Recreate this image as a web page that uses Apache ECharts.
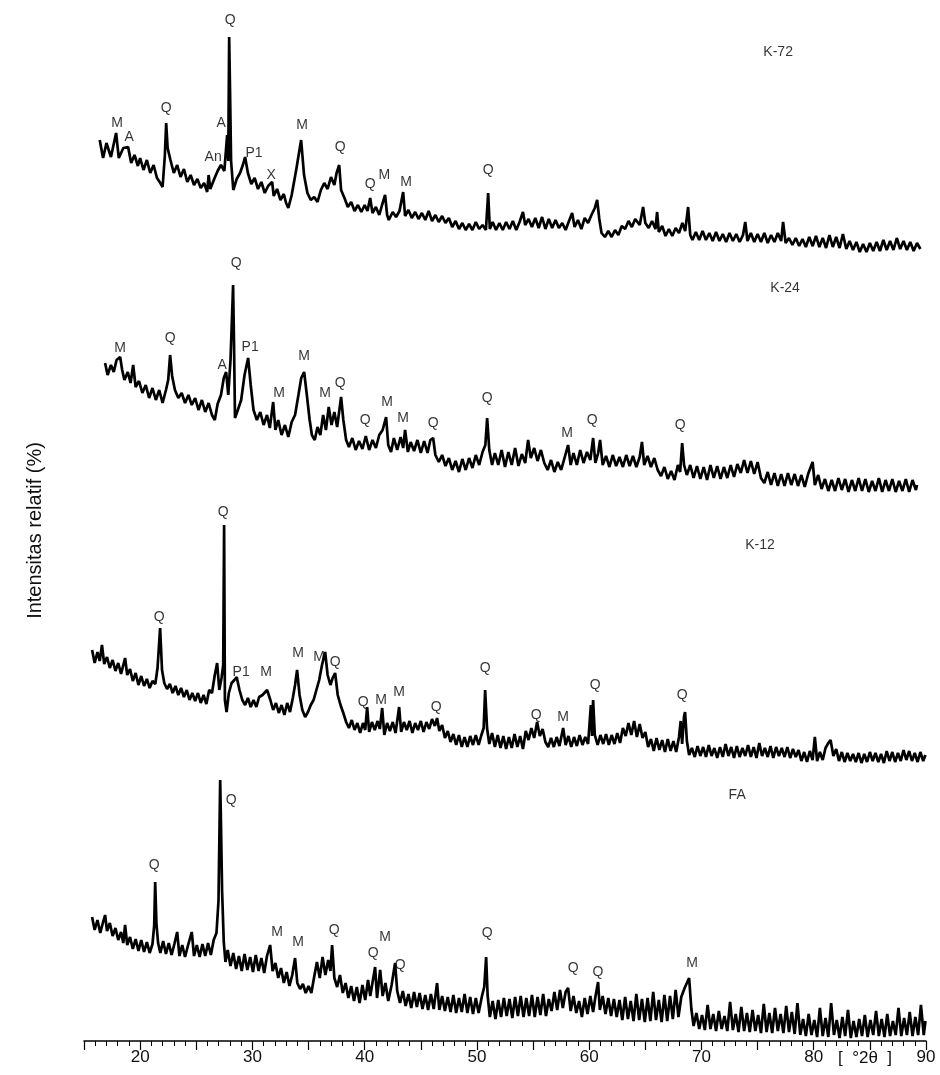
<!DOCTYPE html>
<html>

<head>
  <meta charset="utf-8">
  <title>XRD</title>
  <script src="https://cdn.jsdelivr.net/npm/echarts/dist/echarts.min.js"></script>
  <style>
    body { margin: 0; background: #fff; }
  </style>
</head>

<body>
  <div id="main" style="width: 940px;height:1075px;"></div>
  <script type="text/javascript">
    // 2theta (deg) vs relative intensity, traces already stacked (offsets included)
    var k72 = [
      [16.4, 901], [16.7, 883], [17.0, 898], [17.4, 884], [17.86, 908], [18.1, 883], [18.5, 893], [18.93, 894],
      [19.2, 878], [19.5, 886], [19.8, 875], [20.0, 883], [20.3, 871], [20.6, 881], [20.9, 868], [21.2, 876],
      [21.5, 863], [21.8, 858], [22.0, 854], [22.2, 885], [22.32, 918], [22.45, 893], [22.7, 881], [23.0, 868],
      [23.3, 876], [23.6, 864], [23.9, 872], [24.2, 859], [24.5, 866], [24.8, 856], [25.1, 862], [25.4, 853],
      [25.7, 858], [25.97, 849], [26.1, 866], [26.25, 852], [26.6, 862], [26.9, 870], [27.2, 876], [27.5, 870],
      [27.75, 906], [27.85, 880], [27.93, 1004], [28.0, 956], [28.1, 880], [28.3, 851], [28.6, 862], [28.9, 868],
      [29.15, 876], [29.35, 884], [29.6, 868], [29.9, 857], [30.2, 863], [30.5, 852], [30.8, 859], [31.1, 848],
      [31.4, 855], [31.76, 859], [31.9, 845], [32.2, 852], [32.5, 841], [32.8, 847], [33.0, 838], [33.2, 833],
      [33.5, 846], [33.9, 871], [34.34, 901], [34.6, 866], [34.9, 848], [35.2, 841], [35.5, 844], [35.8, 839],
      [36.1, 851], [36.4, 858], [36.7, 852], [37.0, 864], [37.3, 856], [37.5, 868], [37.73, 876], [37.9, 851],
      [38.2, 843], [38.5, 834], [38.8, 839], [39.1, 830], [39.4, 836], [39.7, 829], [40.0, 836], [40.25, 830],
      [40.49, 843], [40.7, 828], [41.0, 834], [41.3, 826], [41.55, 836], [41.82, 846], [42.0, 826], [42.15, 821],
      [42.5, 829], [42.8, 824], [43.1, 830], [43.43, 849], [43.6, 825], [43.9, 831], [44.2, 823], [44.5, 829],
      [44.8, 822], [45.1, 828], [45.4, 821], [45.7, 830], [46.0, 820], [46.3, 826], [46.6, 819], [46.9, 825],
      [47.2, 818], [47.5, 823], [47.8, 814], [48.1, 820], [48.4, 812], [48.7, 818], [49.0, 811], [49.3, 817],
      [49.6, 811], [49.9, 819], [50.2, 812], [50.5, 816], [50.8, 811], [51.0, 848], [51.15, 812], [51.4, 819],
      [51.7, 811], [52.0, 818], [52.3, 811], [52.6, 819], [52.9, 812], [53.2, 820], [53.5, 811], [53.8, 819],
      [54.1, 829], [54.3, 816], [54.6, 822], [54.9, 814], [55.2, 823], [55.5, 813], [55.8, 824], [56.1, 812],
      [56.4, 822], [56.7, 813], [57.0, 821], [57.3, 813], [57.6, 818], [57.9, 811], [58.2, 820], [58.48, 828],
      [58.7, 814], [59.0, 821], [59.3, 812], [59.6, 823], [59.9, 818], [60.2, 826], [60.5, 833], [60.71, 841],
      [60.9, 822], [61.1, 808], [61.4, 804], [61.7, 810], [62.0, 804], [62.3, 811], [62.6, 806], [62.9, 815],
      [63.2, 812], [63.5, 820], [63.8, 814], [64.1, 822], [64.5, 816], [64.8, 834], [65.0, 818], [65.3, 813],
      [65.6, 820], [65.9, 812], [66.05, 829], [66.2, 809], [66.5, 815], [66.8, 805], [67.1, 812], [67.4, 805],
      [67.7, 813], [68.0, 808], [68.3, 818], [68.55, 810], [68.81, 834], [69.0, 806], [69.2, 801], [69.5, 809],
      [69.8, 801], [70.1, 810], [70.4, 801], [70.7, 808], [71.0, 800], [71.3, 809], [71.6, 800], [71.9, 807],
      [72.2, 799], [72.5, 808], [72.8, 800], [73.1, 807], [73.4, 799], [73.7, 806], [73.9, 819], [74.1, 800],
      [74.4, 808], [74.7, 799], [75.0, 807], [75.3, 799], [75.6, 808], [75.9, 798], [76.2, 806], [76.5, 799],
      [76.8, 808], [77.1, 800], [77.27, 819], [77.5, 798], [77.8, 803], [78.1, 796], [78.4, 803], [78.7, 795],
      [79.0, 802], [79.3, 794], [79.6, 804], [79.9, 795], [80.2, 805], [80.5, 794], [80.8, 803], [81.1, 793],
      [81.4, 806], [81.7, 794], [82.0, 804], [82.3, 793], [82.6, 807], [82.9, 792], [83.2, 800], [83.5, 791],
      [83.8, 799], [84.1, 789], [84.4, 797], [84.7, 789], [85.0, 798], [85.3, 790], [85.6, 799], [85.9, 790],
      [86.2, 801], [86.5, 791], [86.8, 800], [87.1, 791], [87.4, 803], [87.7, 792], [88.0, 800], [88.3, 791],
      [88.6, 799], [88.9, 790], [89.2, 798], [89.5, 792]
    ];

    var k24 = [
      [16.88, 678], [17.1, 666], [17.4, 676], [17.65, 669], [17.9, 681], [18.22, 684], [18.4, 671], [18.6, 661],
      [18.9, 669], [19.15, 658], [19.38, 676], [19.6, 654], [19.9, 660], [20.2, 648], [20.5, 656], [20.8, 643],
      [21.1, 653], [21.4, 641], [21.7, 651], [22.0, 638], [22.3, 651], [22.5, 661], [22.67, 686], [22.85, 665],
      [23.1, 651], [23.4, 643], [23.7, 648], [24.0, 638], [24.3, 646], [24.6, 636], [24.9, 643], [25.2, 631],
      [25.5, 641], [25.8, 629], [26.1, 638], [26.4, 626], [26.65, 621], [26.9, 637], [27.2, 646], [27.45, 663],
      [27.66, 669], [27.85, 646], [28.05, 681], [28.2, 729], [28.28, 756], [28.36, 700], [28.45, 623], [28.7, 631],
      [29.0, 641], [29.3, 666], [29.62, 683], [29.85, 656], [30.1, 631], [30.4, 621], [30.7, 629], [31.0, 616],
      [31.3, 626], [31.55, 613], [31.85, 639], [32.05, 611], [32.3, 621], [32.6, 606], [32.9, 616], [33.2, 604],
      [33.5, 619], [33.8, 626], [34.1, 646], [34.35, 663], [34.61, 669], [34.85, 646], [35.1, 621], [35.3, 606],
      [35.55, 601], [35.8, 614], [36.05, 606], [36.3, 626], [36.55, 611], [36.8, 634], [37.05, 616], [37.3, 629],
      [37.55, 614], [37.9, 644], [38.1, 621], [38.35, 601], [38.6, 594], [38.9, 603], [39.2, 591], [39.5, 600],
      [39.8, 592], [40.1, 605], [40.4, 591], [40.7, 601], [41.0, 593], [41.3, 606], [41.6, 611], [41.91, 624],
      [42.1, 596], [42.35, 589], [42.6, 603], [42.9, 591], [43.2, 604], [43.43, 593], [43.6, 611], [43.85, 589],
      [44.1, 599], [44.4, 590], [44.7, 601], [45.0, 588], [45.3, 600], [45.6, 588], [45.85, 601], [46.1, 603],
      [46.3, 586], [46.6, 579], [46.9, 586], [47.2, 575], [47.5, 583], [47.8, 571], [48.1, 580], [48.4, 569],
      [48.7, 582], [49.0, 571], [49.3, 583], [49.6, 573], [49.9, 586], [50.2, 576], [50.5, 589], [50.75, 596],
      [50.91, 623], [51.1, 591], [51.35, 576], [51.6, 588], [51.9, 576], [52.2, 591], [52.5, 574], [52.8, 589],
      [53.1, 576], [53.4, 593], [53.7, 575], [54.0, 587], [54.3, 578], [54.56, 601], [54.8, 583], [55.1, 593],
      [55.4, 580], [55.7, 591], [56.0, 578], [56.3, 571], [56.6, 581], [56.9, 569], [57.2, 579], [57.5, 571],
      [57.8, 583], [58.12, 596], [58.35, 576], [58.6, 588], [58.9, 576], [59.2, 591], [59.5, 578], [59.8, 589],
      [60.1, 581], [60.35, 603], [60.55, 578], [60.8, 588], [60.97, 601], [61.2, 576], [61.5, 585], [61.8, 574],
      [62.1, 586], [62.4, 575], [62.7, 584], [63.0, 574], [63.3, 586], [63.6, 575], [63.9, 585], [64.2, 574],
      [64.5, 584], [64.7, 599], [64.9, 576], [65.2, 585], [65.5, 574], [65.8, 583], [66.1, 571], [66.4, 565],
      [66.7, 574], [67.0, 562], [67.3, 570], [67.6, 561], [67.9, 576], [68.1, 569], [68.28, 598], [68.45, 576],
      [68.7, 566], [69.0, 576], [69.3, 563], [69.6, 575], [69.9, 562], [70.2, 574], [70.5, 561], [70.8, 576],
      [71.1, 563], [71.4, 575], [71.7, 562], [72.0, 574], [72.3, 563], [72.6, 576], [72.9, 564], [73.2, 577],
      [73.5, 568], [73.8, 581], [74.1, 568], [74.4, 580], [74.7, 567], [75.0, 579], [75.3, 563], [75.6, 558],
      [75.9, 569], [76.2, 556], [76.5, 568], [76.8, 555], [77.1, 567], [77.4, 555], [77.7, 568], [78.0, 556],
      [78.3, 567], [78.6, 555], [78.9, 566], [79.2, 554], [79.5, 567], [79.9, 579], [80.1, 556], [80.4, 566],
      [80.7, 552], [81.0, 562], [81.3, 550], [81.6, 561], [81.9, 550], [82.2, 563], [82.5, 551], [82.8, 562],
      [83.1, 549], [83.4, 561], [83.7, 550], [84.0, 563], [84.3, 550], [84.6, 562], [84.9, 549], [85.2, 560],
      [85.5, 550], [85.8, 563], [86.1, 549], [86.4, 561], [86.7, 550], [87.0, 562], [87.3, 549], [87.6, 560],
      [87.9, 550], [88.2, 562], [88.5, 549], [88.8, 561], [89.1, 551], [89.2, 556]
    ];

    var k12 = [
      [15.72, 391], [15.95, 378], [16.2, 389], [16.4, 380], [16.6, 396], [16.8, 377], [17.05, 384], [17.3, 373],
      [17.55, 381], [17.8, 370], [18.05, 378], [18.3, 367], [18.66, 383], [18.85, 366], [19.1, 372], [19.35, 360],
      [19.6, 368], [19.85, 356], [20.1, 365], [20.35, 355], [20.6, 362], [20.85, 353], [21.1, 360], [21.35, 357],
      [21.55, 373], [21.78, 413], [21.95, 371], [22.15, 358], [22.4, 352], [22.65, 357], [22.9, 348], [23.15, 355],
      [23.4, 346], [23.65, 353], [23.9, 344], [24.15, 351], [24.4, 341], [24.65, 348], [24.9, 340], [25.15, 348],
      [25.4, 338], [25.65, 346], [25.9, 337], [26.15, 351], [26.4, 348], [26.65, 366], [26.86, 378], [27.05, 351],
      [27.25, 363], [27.4, 376], [27.48, 516], [27.55, 341], [27.7, 329], [27.9, 348], [28.15, 358], [28.4, 361],
      [28.6, 364], [28.85, 351], [29.1, 341], [29.35, 336], [29.6, 343], [29.85, 334], [30.1, 341], [30.35, 334],
      [30.6, 344], [30.9, 346], [31.31, 351], [31.6, 341], [31.85, 331], [32.1, 338], [32.35, 328], [32.6, 336],
      [32.85, 326], [33.1, 338], [33.35, 329], [33.6, 343], [33.8, 356], [33.98, 371], [34.2, 346], [34.45, 331],
      [34.7, 324], [34.95, 329], [35.2, 336], [35.45, 341], [35.7, 351], [35.95, 361], [36.2, 376], [36.48, 389],
      [36.7, 366], [36.95, 356], [37.15, 363], [37.37, 368], [37.6, 346], [37.85, 336], [38.1, 328], [38.35, 319],
      [38.6, 313], [38.85, 321], [39.1, 311], [39.35, 318], [39.6, 308], [39.85, 318], [40.05, 311], [40.22, 334],
      [40.4, 309], [40.65, 319], [40.9, 311], [41.15, 320], [41.35, 312], [41.56, 333], [41.75, 306], [42.0, 318],
      [42.25, 310], [42.5, 319], [42.75, 308], [43.07, 334], [43.25, 309], [43.5, 319], [43.75, 311], [44.0, 320],
      [44.25, 308], [44.5, 318], [44.75, 311], [45.0, 320], [45.25, 309], [45.5, 319], [45.75, 312], [46.0, 322],
      [46.25, 315], [46.45, 323], [46.65, 310], [46.9, 316], [47.15, 303], [47.4, 310], [47.65, 299], [47.9, 307],
      [48.15, 296], [48.4, 306], [48.65, 294], [48.9, 304], [49.15, 294], [49.4, 305], [49.65, 296], [49.9, 306],
      [50.15, 296], [50.4, 306], [50.6, 313], [50.73, 351], [50.9, 313], [51.1, 297], [51.35, 308], [51.6, 294],
      [51.85, 306], [52.1, 293], [52.35, 305], [52.6, 292], [52.85, 304], [53.1, 293], [53.35, 307], [53.6, 294],
      [53.85, 305], [54.1, 292], [54.35, 310], [54.6, 301], [54.85, 313], [55.1, 303], [55.36, 319], [55.6, 305],
      [55.85, 312], [56.1, 299], [56.35, 294], [56.6, 303], [56.85, 294], [57.1, 304], [57.35, 295], [57.68, 313],
      [57.9, 296], [58.15, 305], [58.4, 294], [58.65, 304], [58.9, 295], [59.15, 306], [59.4, 296], [59.65, 304],
      [59.9, 297], [60.15, 336], [60.25, 305], [60.35, 341], [60.5, 306], [60.75, 296], [61.0, 306], [61.25, 297],
      [61.5, 307], [61.75, 296], [62.0, 306], [62.25, 297], [62.5, 308], [62.75, 298], [63.0, 313], [63.25, 305],
      [63.5, 318], [63.75, 306], [64.0, 320], [64.25, 304], [64.5, 317], [64.75, 303], [65.0, 309], [65.25, 294],
      [65.5, 302], [65.75, 290], [66.0, 303], [66.25, 291], [66.5, 301], [66.75, 289], [67.0, 302], [67.25, 290],
      [67.5, 300], [67.75, 289], [68.0, 304], [68.15, 320], [68.28, 297], [68.45, 325], [68.54, 329], [68.7, 300],
      [68.9, 286], [69.15, 293], [69.4, 284], [69.65, 295], [69.9, 285], [70.15, 294], [70.4, 284], [70.65, 296],
      [70.9, 285], [71.15, 293], [71.4, 283], [71.65, 294], [71.9, 284], [72.15, 297], [72.4, 285], [72.65, 294],
      [72.9, 283], [73.15, 295], [73.4, 284], [73.65, 293], [73.9, 285], [74.15, 296], [74.4, 284], [74.65, 294],
      [74.9, 283], [75.15, 298], [75.4, 285], [75.65, 293], [75.9, 284], [76.15, 295], [76.4, 283], [76.65, 294],
      [76.9, 285], [77.15, 293], [77.4, 284], [77.65, 294], [77.9, 283], [78.15, 292], [78.4, 284], [78.65, 291],
      [78.9, 280], [79.15, 289], [79.4, 279], [79.65, 290], [79.9, 281], [80.1, 304], [80.3, 280], [80.55, 289],
      [80.8, 281], [81.05, 293], [81.3, 298], [81.5, 301], [81.75, 285], [82.0, 292], [82.25, 280], [82.5, 289],
      [82.75, 279], [83.0, 288], [83.25, 280], [83.5, 287], [83.75, 279], [84.0, 288], [84.25, 278], [84.5, 287],
      [84.75, 279], [85.0, 289], [85.25, 280], [85.5, 288], [85.75, 279], [86.0, 287], [86.25, 278], [86.5, 290],
      [86.75, 280], [87.0, 289], [87.25, 279], [87.5, 288], [87.75, 280], [88.0, 291], [88.25, 281], [88.5, 290],
      [88.75, 280], [89.0, 288], [89.25, 279], [89.5, 289], [89.75, 280], [89.95, 286]
    ];

    var fa = [
      [15.72, 124], [15.95, 111], [16.2, 121], [16.45, 108], [16.7, 119], [16.88, 126], [17.05, 110], [17.3, 118],
      [17.55, 105], [17.8, 113], [18.05, 101], [18.3, 109], [18.5, 98], [18.66, 116], [18.85, 96], [19.1, 104],
      [19.35, 92], [19.6, 102], [19.85, 90], [20.1, 101], [20.35, 89], [20.6, 99], [20.85, 88], [21.1, 97],
      [21.25, 115], [21.34, 159], [21.45, 118], [21.6, 98], [21.8, 88], [22.05, 100], [22.3, 87], [22.55, 98],
      [22.8, 86], [23.05, 97], [23.3, 109], [23.5, 85], [23.75, 96], [24.0, 84], [24.25, 95], [24.6, 109],
      [24.8, 85], [25.05, 96], [25.3, 84], [25.55, 97], [25.8, 85], [26.05, 98], [26.3, 86], [26.55, 101],
      [26.8, 108], [26.98, 140], [27.13, 261], [27.2, 218], [27.3, 150], [27.45, 99], [27.6, 79], [27.8, 91],
      [28.05, 75], [28.3, 88], [28.55, 72], [28.8, 85], [29.05, 70], [29.3, 87], [29.55, 71], [29.8, 84],
      [30.05, 69], [30.3, 86], [30.55, 70], [30.8, 83], [31.05, 68], [31.3, 85], [31.58, 96], [31.8, 70],
      [32.05, 78], [32.3, 63], [32.55, 73], [32.8, 58], [33.05, 69], [33.3, 55], [33.55, 66], [33.8, 83],
      [34.0, 58], [34.25, 52], [34.5, 57], [34.75, 48], [35.0, 55], [35.25, 48], [35.5, 64], [35.75, 79],
      [36.0, 63], [36.25, 84], [36.5, 66], [36.75, 81], [36.95, 70], [37.1, 96], [37.3, 63], [37.55, 54],
      [37.8, 66], [38.05, 48], [38.3, 58], [38.55, 43], [38.8, 55], [39.05, 40], [39.3, 54], [39.55, 38],
      [39.8, 56], [40.05, 41], [40.3, 61], [40.5, 45], [40.93, 74], [41.1, 43], [41.38, 71], [41.6, 45],
      [41.85, 58], [42.1, 40], [42.4, 56], [42.71, 78], [42.9, 50], [43.15, 38], [43.4, 50], [43.65, 35],
      [43.9, 47], [44.15, 33], [44.4, 49], [44.65, 34], [44.9, 48], [45.15, 32], [45.4, 46], [45.65, 31],
      [45.9, 47], [46.15, 32], [46.45, 58], [46.65, 31], [46.9, 45], [47.15, 30], [47.4, 44], [47.65, 29],
      [47.9, 46], [48.15, 28], [48.4, 43], [48.65, 29], [48.9, 47], [49.15, 28], [49.4, 44], [49.65, 27],
      [49.9, 43], [50.15, 28], [50.45, 45], [50.65, 54], [50.82, 84], [50.95, 46], [51.15, 24], [51.4, 40],
      [51.65, 22], [51.9, 41], [52.15, 24], [52.4, 43], [52.65, 25], [52.9, 42], [53.15, 23], [53.4, 44],
      [53.65, 25], [53.9, 45], [54.15, 24], [54.4, 43], [54.65, 25], [54.9, 46], [55.15, 24], [55.4, 44],
      [55.65, 26], [55.9, 47], [56.15, 25], [56.4, 42], [56.65, 30], [56.9, 49], [57.15, 31], [57.4, 51],
      [57.65, 33], [57.9, 49], [58.12, 53], [58.35, 30], [58.6, 45], [58.85, 28], [59.1, 40], [59.35, 24],
      [59.6, 43], [59.85, 27], [60.1, 45], [60.35, 29], [60.55, 44], [60.79, 59], [60.95, 31], [61.2, 45],
      [61.45, 27], [61.7, 43], [61.95, 25], [62.2, 42], [62.45, 24], [62.7, 41], [62.95, 21], [63.2, 44],
      [63.45, 22], [63.7, 40], [63.95, 20], [64.2, 47], [64.45, 21], [64.7, 42], [64.95, 19], [65.2, 43],
      [65.45, 20], [65.7, 49], [65.95, 21], [66.2, 41], [66.45, 19], [66.7, 46], [66.95, 20], [67.2, 45],
      [67.45, 22], [67.7, 51], [67.95, 24], [68.2, 44], [68.5, 53], [68.9, 63], [69.1, 32], [69.3, 15],
      [69.55, 28], [69.8, 12], [70.05, 26], [70.3, 11], [70.55, 36], [70.8, 12], [71.05, 27], [71.3, 10],
      [71.55, 30], [71.8, 12], [72.05, 25], [72.3, 10], [72.55, 39], [72.8, 11], [73.05, 27], [73.3, 9],
      [73.55, 34], [73.8, 10], [74.05, 28], [74.3, 9], [74.55, 31], [74.8, 10], [75.05, 26], [75.3, 8],
      [75.55, 37], [75.8, 9], [76.05, 28], [76.3, 8], [76.55, 33], [76.8, 10], [77.05, 27], [77.3, 8],
      [77.55, 35], [77.8, 9], [78.05, 29], [78.3, 7], [78.55, 38], [78.8, 6], [79.05, 22], [79.3, 5],
      [79.55, 27], [79.8, 6], [80.05, 21], [80.3, 4], [80.55, 33], [80.8, 5], [81.05, 23], [81.3, 4],
      [81.55, 38], [81.8, 6], [82.05, 21], [82.3, 3], [82.55, 24], [82.8, 5], [83.05, 31], [83.3, 3],
      [83.55, 20], [83.8, 4], [84.05, 22], [84.3, 5], [84.55, 26], [84.8, 4], [85.05, 21], [85.3, 6],
      [85.55, 30], [85.8, 5], [86.05, 22], [86.3, 4], [86.55, 27], [86.8, 5], [87.05, 20], [87.3, 6],
      [87.55, 33], [87.8, 5], [88.05, 23], [88.3, 6], [88.55, 29], [88.8, 5], [89.05, 24], [89.3, 6],
      [89.55, 36], [89.8, 6], [89.95, 20]
    ];

    // phase labels: [2theta, intensity, text]
    var k72Peaks = [
      [17.95, 918, 'M'], [19.02, 904, 'A'], [22.32, 933, 'Q'], [26.5, 884, 'An'], [27.21, 918, 'A'],
      [28.02, 1021, 'Q'], [30.15, 888, 'P1'], [31.67, 866, 'X'], [34.43, 916, 'M'], [37.81, 894, 'Q'],
      [40.49, 857, 'Q'], [41.75, 866, 'M'], [43.69, 859, 'M'], [51.0, 871, 'Q']
    ];
    var k24Peaks = [
      [18.22, 693, 'M'], [22.67, 703, 'Q'], [27.3, 676, 'A'], [28.55, 778, 'Q'], [29.8, 694, 'P1'],
      [32.38, 648, 'M'], [34.61, 685, 'M'], [36.48, 648, 'M'], [37.81, 658, 'Q'], [40.04, 621, 'Q'],
      [42.0, 639, 'M'], [43.43, 623, 'M'], [46.1, 618, 'Q'], [50.91, 643, 'Q'], [58.03, 608, 'M'],
      [60.26, 621, 'Q'], [68.1, 616, 'Q']
    ];
    var k12Peaks = [
      [21.69, 424, 'Q'], [27.39, 529, 'Q'], [29.0, 369, 'P1'], [31.22, 369, 'M'], [34.07, 388, 'M'],
      [35.94, 384, 'M'], [37.37, 379, 'Q'], [39.86, 339, 'Q'], [41.47, 341, 'M'], [43.07, 349, 'M'],
      [46.37, 334, 'Q'], [50.73, 373, 'Q'], [55.27, 326, 'Q'], [57.68, 324, 'M'], [60.53, 356, 'Q'],
      [68.28, 346, 'Q']
    ];
    var faPeaks = [
      [21.25, 176, 'Q'], [28.11, 241, 'Q'], [32.2, 109, 'M'], [34.07, 99, 'M'], [37.28, 111, 'Q'],
      [40.75, 88, 'Q'], [41.82, 104, 'M'], [43.16, 76, 'Q'], [50.91, 108, 'Q'], [58.57, 73, 'Q'],
      [60.79, 69, 'Q'], [69.17, 78, 'M']
    ];
    var sampleNames = [
      [76.83, 989, 'K-72'], [77.45, 753, 'K-24'], [75.22, 496, 'K-12'], [73.18, 246, 'FA']
    ];

    var myChart = echarts.init(document.getElementById('main'));

    function traceSeries(data) {
      return {
        type: 'line',
        data: data,
        showSymbol: false,
        silent: true,
        lineStyle: { color: '#000', width: 2.7, join: 'bevel' },
        z: 2
      };
    }

    function labelSeries(data, size) {
      return {
        type: 'scatter',
        data: data,
        symbolSize: 1,
        clip: false,
        silent: true,
        itemStyle: { color: 'rgba(0,0,0,0)' },
        label: {
          show: true,
          position: 'inside',
          formatter: function (p) { return p.value[2]; },
          color: '#000',
          fontFamily: 'Liberation Sans, Arial, sans-serif',
          fontSize: size
        },
        z: 3
      };
    }

    var option = {
      animation: false,
      backgroundColor: '#fff',
      grid: { left: 84, right: 14, top: 20, bottom: 34 },
      xAxis: {
        type: 'value',
        min: 15,
        max: 90,
        interval: 5,
        axisLine: { show: true, lineStyle: { color: '#000', width: 1.5 } },
        axisTick: { show: true, length: 9, lineStyle: { color: '#000', width: 1.2 } },
        minorTick: { show: true, splitNumber: 5, length: 5, lineStyle: { color: '#000', width: 1 } },
        splitLine: { show: false },
        axisLabel: {
          margin: 8,
          color: '#111',
          fontFamily: 'Liberation Sans, Arial, sans-serif',
          fontSize: 17,
          formatter: function (v) { return v % 10 === 0 ? String(v) : ''; }
        }
      },
      yAxis: {
        type: 'value',
        min: 0,
        max: 1021,
        axisLine: { show: false },
        axisTick: { show: false },
        axisLabel: { show: false },
        splitLine: { show: false },
        name: 'Intensitas relatif (%)',
        nameLocation: 'middle',
        nameRotate: 90,
        nameGap: 39,
        nameTextStyle: { color: '#111', fontFamily: 'Liberation Sans, Arial, sans-serif', fontSize: 20 }
      },
      graphic: [{
        type: 'text',
        left: 838,
        top: 1050,
        style: { text: '[  °2θ  ]', fill: '#111', font: '17px "Liberation Sans", Arial, sans-serif' }
      }],
      series: [
        traceSeries(k72), traceSeries(k24), traceSeries(k12), traceSeries(fa),
        labelSeries(k72Peaks, 14), labelSeries(k24Peaks, 14),
        labelSeries(k12Peaks, 14), labelSeries(faPeaks, 14),
        labelSeries(sampleNames, 14)
      ]
    };

    myChart.setOption(option);
  </script>
</body>

</html>
